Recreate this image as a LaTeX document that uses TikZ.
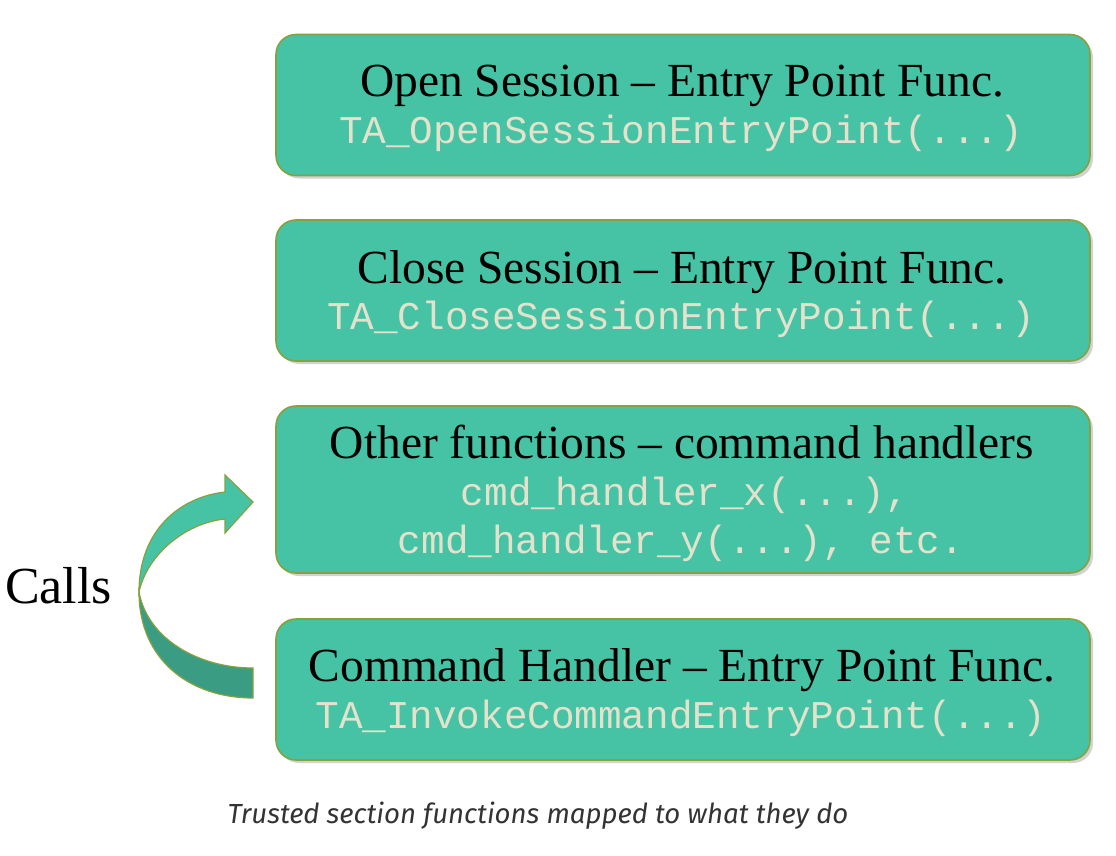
\documentclass[tikz,border=0pt]{standalone}
\usepackage{fontspec}
\setmainfont{Liberation Serif}
\newfontfamily\codefont{Liberation Mono}
\newfontfamily\capfont{Fira Sans}
\usetikzlibrary{shadows}
\definecolor{boxfill}{HTML}{45C3A4}
\definecolor{boxedge}{HTML}{86A23E}
\definecolor{codecol}{HTML}{E4E2CC}
\definecolor{darkband}{HTML}{3A9C82}
\definecolor{captioncol}{HTML}{333333}
\tikzset{
  fnbox/.style={draw=boxedge, line width=1.6pt, fill=boxfill, rounded corners=20pt,
    minimum width=814pt, minimum height=141pt, inner sep=0pt,
    drop shadow={opacity=0.35, shadow xshift=3pt, shadow yshift=-3pt}},
  titletext/.style={anchor=base, inner sep=0pt, font=\fontsize{47.5}{50}\selectfont},
  codetext/.style={anchor=base, inner sep=0pt, text=codecol, font=\codefont\fontsize{39.3}{48}\selectfont},
  band/.style={draw=boxedge, line width=1.2pt},
}
\begin{document}
\begin{tikzpicture}[x=1pt,y=-1pt]
\useasboundingbox[fill=white] (0,0) rectangle (1116,856);
\node[fnbox] (open) at (683,105) {};
\node[fnbox] (close) at (683,290.5) {};
\node[fnbox, minimum height=167pt] (other) at (683,489.5) {};
\node[fnbox] (cmd) at (683,689.5) {};
\node[titletext] (open-t) at (682,97) {Open Session – Entry Point Func.};
\node[codetext] (open-c) at (681,143) {TA\_OpenSessionEntryPoint(...)};
\node[titletext] (close-t) at (682,283) {Close Session – Entry Point Func.};
\node[codetext] (close-c) at (681,329) {TA\_CloseSessionEntryPoint(...)};
\node[titletext] (other-t) at (682,458) {Other functions – command handlers};
\node[codetext] (other-c1) at (685,505) {cmd\_handler\_x(...),};
\node[codetext] (other-c2) at (681,553) {cmd\_handler\_y(...), etc.};
\node[titletext] (cmd-t) at (682,681) {Command Handler – Entry Point Func.};
\node[codetext] (cmd-c) at (681,728) {TA\_InvokeCommandEntryPoint(...)};
% curved arrow
\draw[band, fill=darkband] (139,592) .. controls (139,660) and (190,698) .. (253,698)
  -- (253,668) .. controls (200,668) and (148,640) .. (139,592) -- cycle;
\draw[band, fill=boxfill] (139,592) .. controls (139,530) and (180,497) .. (225,492)
  -- (225,475) -- (253,502) -- (225,533) -- (225,519)
  .. controls (185,523) and (147,555) .. (139,592) -- cycle;
\node[anchor=base west, font=\fontsize{52}{60}\selectfont, inner sep=0pt] (calls) at (5,603) {Calls};
\node[anchor=base, font=\capfont\itshape\fontsize{27.6}{30}\selectfont, text=captioncol, inner sep=0pt] (caption) at (538,823) {Trusted section functions mapped to what they do};
\end{tikzpicture}
\end{document}
